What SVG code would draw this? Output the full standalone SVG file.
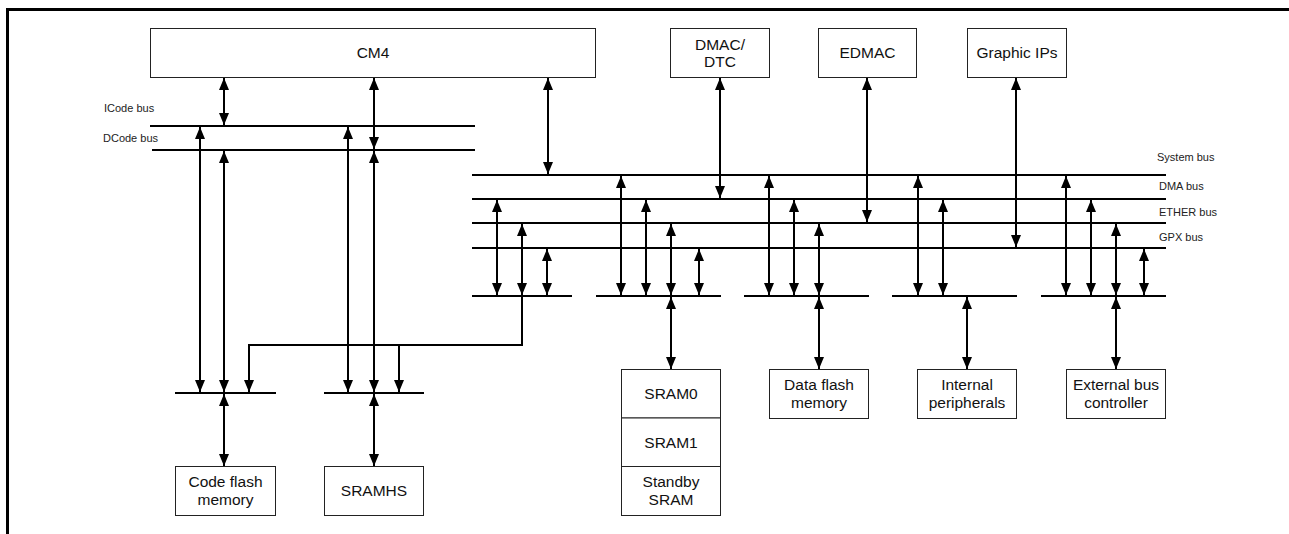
<svg xmlns="http://www.w3.org/2000/svg" width="1289" height="534" viewBox="0 0 1289 534">
<style>
.box{fill:#fff;stroke:#222;stroke-width:1}
.t{font-family:"Liberation Sans",Arial,sans-serif;font-size:15.5px;fill:#111;text-anchor:middle}
.lbl{font-family:"Liberation Sans",Arial,sans-serif;font-size:11px;fill:#222}
.bus{stroke:#000;stroke-width:2;fill:none}
.a2{stroke:#000;stroke-width:2;fill:none;marker-start:url(#ah);marker-end:url(#ah)}
.a1{stroke:#000;stroke-width:2;fill:none;marker-end:url(#ah)}
.frame{stroke:#000;stroke-width:3;fill:none}
</style>
<defs>
<marker id="ah" viewBox="0 0 12 10" refX="12" refY="5" markerWidth="12" markerHeight="10" markerUnits="userSpaceOnUse" orient="auto-start-reverse"><path d="M0,0 L12,5 L0,10 z" fill="#000"/></marker>
</defs>
<rect width="1289" height="534" fill="#fff"/>
<path class="frame" d="M7.5,534 V9.5 H1289"/>

<g id="cm4"><rect class="box" x="150.5" y="28.5" width="445" height="49"/><text class="t" x="373" y="58">CM4</text></g>
<g id="dmac"><rect class="box" x="670.5" y="28.5" width="99" height="49"/><text class="t" x="720" y="49.5">DMAC/</text><text class="t" x="720" y="66.5">DTC</text></g>
<g id="edmac"><rect class="box" x="818.5" y="28.5" width="98" height="49"/><text class="t" x="867.5" y="58">EDMAC</text></g>
<g id="graphic"><rect class="box" x="967.5" y="28.5" width="99" height="49"/><text class="t" x="1017" y="58">Graphic IPs</text></g>

<g id="codeflash"><rect class="box" x="175.5" y="466.5" width="100" height="49"/><text class="t" x="225.5" y="487">Code flash</text><text class="t" x="225.5" y="505">memory</text></g>
<g id="sramhs"><rect class="box" x="324.5" y="466.5" width="99" height="49"/><text class="t" x="374" y="496">SRAMHS</text></g>
<g id="sram"><rect class="box" x="621.5" y="369.5" width="99" height="48.5"/><text class="t" x="671" y="399">SRAM0</text>
<rect class="box" x="621.5" y="418" width="99" height="48.5"/><text class="t" x="671" y="447.5">SRAM1</text>
<rect class="box" x="621.5" y="466.5" width="99" height="49"/><text class="t" x="671" y="487">Standby</text><text class="t" x="671" y="505">SRAM</text></g>
<g id="dataflash"><rect class="box" x="769.5" y="369.5" width="99" height="49"/><text class="t" x="819" y="390">Data flash</text><text class="t" x="819" y="408">memory</text></g>
<g id="periph"><rect class="box" x="917.5" y="369.5" width="99" height="49"/><text class="t" x="967" y="390">Internal</text><text class="t" x="967" y="408">peripherals</text></g>
<g id="extbus"><rect class="box" x="1066.5" y="369.5" width="99" height="49"/><text class="t" x="1116" y="390">External bus</text><text class="t" x="1116" y="408">controller</text></g>

<g id="buses">
<line class="bus" x1="150" y1="126" x2="475" y2="126"/>
<line class="bus" x1="152" y1="150" x2="475" y2="150"/>
<text class="lbl" x="104" y="112">ICode bus</text>
<text class="lbl" x="103" y="142">DCode bus</text>
<line class="bus" x1="472" y1="175" x2="1166" y2="175"/>
<line class="bus" x1="472" y1="199" x2="1166" y2="199"/>
<line class="bus" x1="472" y1="223" x2="1166" y2="223"/>
<line class="bus" x1="472" y1="248" x2="1166" y2="248"/>
<text class="lbl" x="1157" y="161">System bus</text>
<text class="lbl" x="1159" y="190">DMA bus</text>
<text class="lbl" x="1159" y="216">ETHER bus</text>
<text class="lbl" x="1159" y="241">GPX bus</text>
<line class="bus" x1="472" y1="296" x2="572" y2="296"/>
<line class="bus" x1="596" y1="296" x2="721" y2="296"/>
<line class="bus" x1="744" y1="296" x2="869" y2="296"/>
<line class="bus" x1="892" y1="296" x2="1017" y2="296"/>
<line class="bus" x1="1041" y1="296" x2="1166" y2="296"/>
<line class="bus" x1="175" y1="393" x2="276" y2="393"/>
<line class="bus" x1="324" y1="393" x2="424" y2="393"/>
</g>

<g id="connectors">
<line class="a2" x1="224" y1="78" x2="224" y2="125"/>
<line class="a2" x1="374" y1="78" x2="374" y2="149"/>
<line class="a2" x1="548" y1="78" x2="548" y2="174"/>
<line class="a2" x1="720" y1="78" x2="720" y2="198"/>
<line class="a2" x1="867" y1="78" x2="867" y2="222"/>
<line class="a2" x1="1016" y1="78" x2="1016" y2="247"/>

<line class="a2" x1="200" y1="127" x2="200" y2="392"/>
<line class="a2" x1="224" y1="151" x2="224" y2="392"/>
<line class="a2" x1="348" y1="127" x2="348" y2="392"/>
<line class="a2" x1="374" y1="151" x2="374" y2="392"/>
<path class="a1" d="M522,296 V345 H249 V392"/>
<path class="a1" d="M399,345 V392"/>
<line class="a2" x1="224" y1="394" x2="224" y2="466"/>
<line class="a2" x1="374" y1="394" x2="374" y2="466"/>

<line class="a2" x1="497" y1="200" x2="497" y2="295"/>
<line class="a2" x1="522" y1="224" x2="522" y2="295"/>
<line class="a2" x1="547" y1="249" x2="547" y2="295"/>

<line class="a2" x1="621" y1="176" x2="621" y2="295"/>
<line class="a2" x1="646" y1="200" x2="646" y2="295"/>
<line class="a2" x1="671" y1="224" x2="671" y2="295"/>
<line class="a2" x1="699" y1="249" x2="699" y2="295"/>
<line class="a2" x1="671" y1="297" x2="671" y2="369"/>

<line class="a2" x1="769" y1="176" x2="769" y2="295"/>
<line class="a2" x1="794" y1="200" x2="794" y2="295"/>
<line class="a2" x1="819" y1="224" x2="819" y2="295"/>
<line class="a2" x1="819" y1="297" x2="819" y2="369"/>

<line class="a2" x1="918" y1="176" x2="918" y2="295"/>
<line class="a2" x1="943" y1="200" x2="943" y2="295"/>
<line class="a2" x1="967" y1="297" x2="967" y2="369"/>

<line class="a2" x1="1066" y1="176" x2="1066" y2="295"/>
<line class="a2" x1="1091" y1="200" x2="1091" y2="295"/>
<line class="a2" x1="1116" y1="224" x2="1116" y2="295"/>
<line class="a2" x1="1144" y1="249" x2="1144" y2="295"/>
<line class="a2" x1="1116" y1="297" x2="1116" y2="369"/>
</g>
</svg>
